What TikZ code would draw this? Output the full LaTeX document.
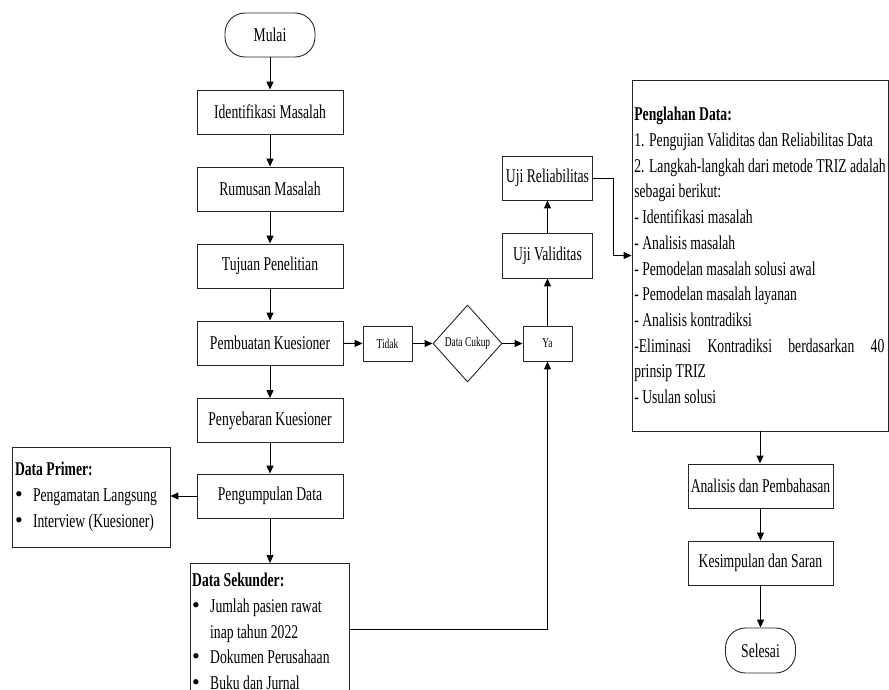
\documentclass[tikz,border=0pt]{standalone}
\usepackage{fontspec}
\setmainfont{Liberation Serif}[FakeStretch=0.7]
\newfontfamily\bulfont{Liberation Serif}
\usetikzlibrary{arrows.meta,shapes.geometric}
\newcommand\dmain{\fontsize{19.5}{25.7}\selectfont}
\newcommand\dsmall{\fontsize{13.5}{16}\selectfont}
\newcommand\dbul{\makebox[18pt][l]{{\bulfont\fontsize{22}{0}\selectfont •}}}
\begin{document}
\begin{tikzpicture}[x=1pt,y=-1pt,
  box/.style={draw=black!85, line width=0.9pt, minimum width=146pt, minimum height=44pt, inner sep=0pt, font=\dmain},
  term/.style={box, rounded corners=20pt},
  smallbox/.style={draw=black!85, line width=0.9pt, minimum width=49pt, minimum height=35pt, inner sep=0pt, font=\dsmall},
  arr/.style={-{Triangle[length=8pt,width=7pt]}, line width=1pt},
]
\useasboundingbox (0,0) rectangle (889,690);

\node[term, minimum width=90pt] (mulai) at (270,35) {Mulai};
\node[box] (idm) at (270,112) {Identifikasi Masalah};
\node[box] (rum) at (270,189) {Rumusan Masalah};
\node[box] (tuj) at (270,266) {Tujuan Penelitian};
\node[box] (pemb) at (270,343) {Pembuatan Kuesioner};
\node[box] (peny) at (270,420.5) {Penyebaran Kuesioner};
\node[box] (peng) at (270,496) {Pengumpulan Data};

\node[box, minimum width=158pt, minimum height=100pt, align=left] (dprim) at (91,497)
  {\makebox[152pt][l]{\textbf{Data Primer:}}\\ \dbul Pengamatan Langsung\\ \dbul Interview (Kuesioner)};

\node[box, minimum width=159pt, minimum height=160pt, anchor=north] (dsek) at (269.5,563) {};
\node[font=\dmain, align=left, anchor=north west, inner sep=0pt] (dsektxt) at (192,573)
  {\textbf{Data Sekunder:}\\ \dbul Jumlah pasien rawat\\ \hspace*{18pt}inap tahun 2022\\ \dbul Dokumen Perusahaan\\ \dbul Buku dan Jurnal};

\node[smallbox] (tidak) at (387.5,343.5) {Tidak};
\node[diamond, draw=black!85, line width=0.9pt, minimum width=69pt, minimum height=77pt, inner sep=0pt, font=\dsmall] (cukup) at (467.5,343.5) {Data Cukup};
\node[smallbox] (ya) at (547.5,343.5) {Ya};

\node[box, minimum width=90pt, minimum height=45pt] (uv) at (547.5,255.5) {Uji Validitas};
\node[box, minimum width=90pt] (ur) at (547.5,178) {Uji Reliabilitas};

\node[box, minimum width=256pt, minimum height=351pt, align=left] (proc) at (760,255.5)
  {\textbf{Penglahan Data:}\\
   1. Pengujian Validitas dan Reliabilitas Data\\
   2. Langkah-langkah dari metode TRIZ adalah\\
   sebagai berikut:\\
   - Identifikasi masalah\\
   - Analisis masalah\\
   - Pemodelan masalah solusi awal\\
   - Pemodelan masalah layanan\\
   - Analisis kontradiksi\\
   \makebox[250pt][s]{-Eliminasi Kontradiksi berdasarkan 40}\\
   prinsip TRIZ\\
   - Usulan solusi};

\node[box, minimum width=145pt] (anal) at (760.5,486) {Analisis dan Pembahasan};
\node[box, minimum width=145pt] (kes) at (760.5,563) {Kesimpulan dan Saran};
\node[term, minimum width=70pt, minimum height=45pt] (sel) at (760.5,650.5) {Selesai};

\draw[arr] (mulai) -- (idm);
\draw[arr] (idm) -- (rum);
\draw[arr] (rum) -- (tuj);
\draw[arr] (tuj) -- (pemb);
\draw[arr] (pemb) -- (peny);
\draw[arr] (peny) -- (peng);
\draw[arr] (peng.south) -- (peng.south |- dsek.north);
\draw[arr] (peng.west) -- (peng.west -| dprim.east);
\draw[arr] (pemb) -- (tidak);
\draw[arr] (tidak) -- (cukup);
\draw[arr] (cukup) -- (ya);
\draw[arr] (ya) -- (uv);
\draw[arr] (uv) -- (ur);
\draw[arr] (ur.east) -- ++(21,0) |- (proc.west);
\draw[arr] ([yshift=-66pt]dsek.north east) -| (ya.south);
\draw[arr] (proc.south) -- (proc.south |- anal.north);
\draw[arr] (anal) -- (kes);
\draw[arr] (kes) -- (sel);
\end{tikzpicture}
\end{document}
